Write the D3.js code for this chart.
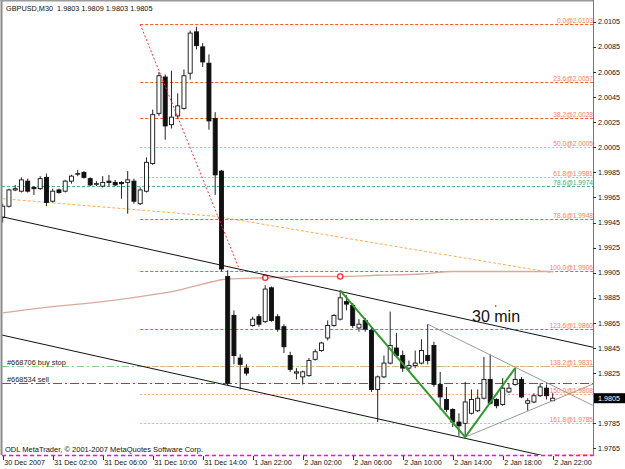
<!DOCTYPE html>
<html>
<head>
<meta charset="utf-8">
<script src="https://cdnjs.cloudflare.com/ajax/libs/d3/7.8.5/d3.min.js"></script>
<style>
  html, body { margin: 0; padding: 0; background: #fff; }
  svg { display: block; font-family: "Liberation Sans", Arial, sans-serif; }
</style>
</head>
<body>
<svg id="chart" width="625" height="469"></svg>
<script>
// GBPUSD M30 candles, bar 0 = 30 Dec 22:00
const opens = [1.9949,1.9958,1.9971,1.9970,1.9978,1.9973,1.9972,1.9981,1.9962,1.9971,
  1.9970,1.9978,1.9984,1.9985,1.9980,1.9976,1.9974,1.9978,1.9977,1.9977,
  1.9977,1.9978,1.9960,1.9970,1.9992,2.0032,2.0061,2.0023,2.0030,2.0036,
  2.0064,2.0097,2.0085,2.0072,2.0028,1.9986,1.9902,1.9871,1.9837,1.9829,
  1.9863,1.9870,1.9866,1.9893,1.9870,1.9862,1.9839,1.9825,1.9822,1.9823,
  1.9836,1.9843,1.9853,1.9863,1.9868,1.9882,1.9879,1.9861,1.9867,1.9859,
  1.9812,1.9822,1.9833,1.9845,1.9839,1.9829,1.9831,1.9833,1.9839,1.9847,
  1.9816,1.9804,1.9796,1.9786,1.9785,1.9793,1.9795,1.9805,1.9820,1.9804,
  1.9800,1.9810,1.9816,1.9820,1.9801,1.9802,1.9807,1.9813,1.9803];
const highs = [1.9960,1.9972,1.9975,1.9981,1.9980,1.9974,1.9982,1.9984,1.9972,1.9972,
  1.9979,1.9983,1.9987,1.9986,1.9981,1.9978,1.9982,1.9983,1.9979,1.9978,
  1.9986,1.9980,1.9973,1.9997,2.0035,2.0065,2.0063,2.0066,2.0048,2.0067,
  2.0098,2.0101,2.0088,2.0079,2.0033,1.9987,1.9907,1.9875,1.9840,1.9832,
  1.9870,1.9872,1.9895,1.9894,1.9872,1.9864,1.9842,1.9829,1.9827,1.9837,
  1.9844,1.9850,1.9867,1.9872,1.9891,1.9887,1.9881,1.9868,1.9869,1.9861,
  1.9823,1.9839,1.9874,1.9857,1.9843,1.9835,1.9843,1.9852,1.9864,1.9850,
  1.9826,1.9814,1.9797,1.9793,1.9818,1.9812,1.9812,1.9838,1.9840,1.9805,
  1.9821,1.9817,1.9829,1.9822,1.9805,1.9809,1.9817,1.9816,1.9809];
const lows = [1.9945,1.9957,1.9970,1.9969,1.9969,1.9967,1.9971,1.9958,1.9961,1.9968,
  1.9969,1.9976,1.9982,1.9980,1.9974,1.9974,1.9973,1.9974,1.9974,1.9964,
  1.9952,1.9960,1.9959,1.9969,1.9991,2.0030,2.0011,2.0020,2.0028,2.0035,
  2.0059,2.0083,2.0069,2.0019,1.9967,1.9906,1.9815,1.9832,1.9812,1.9823,
  1.9862,1.9862,1.9865,1.9866,1.9858,1.9841,1.9826,1.9820,1.9816,1.9822,
  1.9835,1.9842,1.9851,1.9862,1.9867,1.9875,1.9861,1.9858,1.9858,1.9810,
  1.9786,1.9821,1.9832,1.9837,1.9826,1.9826,1.9829,1.9832,1.9832,1.9814,
  1.9796,1.9794,1.9782,1.9775,1.9773,1.9792,1.9794,1.9804,1.9800,1.9797,
  1.9799,1.9809,1.9815,1.9805,1.9795,1.9801,1.9806,1.9804,1.9803];
const closes = [1.9958,1.9971,1.9972,1.9979,1.9970,1.9972,1.9980,1.9961,1.9970,1.9969,
  1.9978,1.9982,1.9984,1.9981,1.9975,1.9976,1.9977,1.9977,1.9975,1.9976,
  1.9979,1.9962,1.9971,1.9993,2.0031,2.0062,2.0022,2.0029,2.0038,2.0062,
  2.0096,2.0086,2.0073,2.0026,1.9983,1.9908,1.9817,1.9839,1.9832,1.9825,
  1.9868,1.9864,1.9892,1.9867,1.9860,1.9846,1.9828,1.9826,1.9826,1.9835,
  1.9842,1.9849,1.9863,1.9871,1.9885,1.9880,1.9863,1.9864,1.9860,1.9812,
  1.9822,1.9833,1.9847,1.9839,1.9829,1.9831,1.9833,1.9843,1.9835,1.9816,
  1.9806,1.9796,1.9786,1.9783,1.9802,1.9804,1.9805,1.9820,1.9801,1.9799,
  1.9813,1.9813,1.9820,1.9806,1.9803,1.9807,1.9814,1.9807,1.9805];

const timeLabels = ["30 Dec 2007","31 Dec 02:00","31 Dec 06:00","31 Dec 10:00","31 Dec 14:00",
  "1 Jan 22:00","2 Jan 02:00","2 Jan 06:00","2 Jan 10:00","2 Jan 14:00","2 Jan 18:00","2 Jan 22:00"];
const timeLabelBars = [0,8,16,24,32,40,48,56,64,72,80,88];

const priceTicks = [2.0105,2.0085,2.0065,2.0045,2.0025,2.0005,1.9985,1.9965,1.9945,
  1.9925,1.9905,1.9885,1.9865,1.9845,1.9825,1.9785,1.9765];
const lastPrice = 1.9805;

// fibonacci retracement (anchored bar 22 -> bar 38)
const fibAnchorBars = [22, 38];
const fibAnchorPrices = [2.0103, 1.9906];
const fibLevels = ["0.0","23.6","38.2","50.0","61.8","78.6","100.0","123.6","138.2","150.0","161.8","176.4"];
const fibPrices = [2.0103,2.0057,2.0028,2.0005,1.9981,1.9948,1.9906,1.9860,1.9831,1.9808,1.9785,1.9756];
const fibFaint = [false,false,false,true,true,false,false,false,true,true,true,true];

// second fib level shown in green
const greenFibLabel = "78.6@1.9974";
const greenFibPrice = 1.9974;

// orders
const orderLabels = ["#668706 buy stop", "#668534 sell"];
const orderPrices = [1.9831, 1.9817];

// moving average
const maBars = [0,8,16,22,28,32,36,42,48,54,60,67,72,80,88];
const maValues = [1.9873,1.9878,1.9882,1.9886,1.9891,1.9896,1.9900,1.9901,1.9902,1.9902,1.9903,1.9904,1.9906,1.9906,1.9906];
const maMarkBars = [42, 54];

// trend lines
const channelBars = [0, 88];
const channelUpper = [1.99495, 1.98527];
const channelLower = [1.98552, 1.97575];
const triUpperBars = [68, 88], triUpperPrices = [1.9864, 1.9815];
const triLowerBars = [74, 88], triLowerPrices = [1.9774, 1.9803];
const zigBars = [54, 74, 82], zigPrices = [1.9891, 1.9774, 1.9829];
const orangeBars = [0, 34, 88], orangePrices = [1.9964, 1.9950, 1.9905];

// ---- layout
const plot = { left: 2, right: 593, top: 2, bottom: 455 };
const svg = d3.select('#chart');

const x = d3.scaleLinear().domain([0, 88]).range([2.7, 552.7]);
const y = d3.scaleLinear().domain([1.9765, 2.0105]).range([448.4, 21.8]);
const ys = p => Math.round(y(p)) + 0.5;   // pixel-snapped for flat lines

svg.append('rect').attr('width', 625).attr('height', 469).attr('fill', '#fff');

svg.append('defs').append('clipPath').attr('id', 'clip')
  .append('rect')
  .attr('x', plot.left).attr('y', plot.top)
  .attr('width', plot.right - plot.left).attr('height', plot.bottom - plot.top);

const g = svg.append('g').attr('clip-path', 'url(#clip)');

const bLeft = x.invert(plot.left), bRight = x.invert(plot.right);

function extend(bars, prices, fromLeft) {
  const slope = (prices[1] - prices[0]) / (bars[1] - bars[0]);
  const b0 = fromLeft ? bLeft : bars[0];
  return [[b0, prices[0] + slope * (b0 - bars[0])], [bRight, prices[0] + slope * (bRight - bars[0])]];
}
const line = d3.line().x(d => x(d[0])).y(d => y(d[1]));
const smooth = d3.line().x(d => x(d[0])).y(d => y(d[1])).curve(d3.curveMonotoneX);

// green fib line (full width)
g.append('line')
  .attr('x1', plot.left).attr('x2', plot.right)
  .attr('y1', ys(greenFibPrice)).attr('y2', ys(greenFibPrice))
  .attr('stroke', '#4db38e').attr('stroke-dasharray', '3,2');

// order lines
g.append('line')
  .attr('x1', plot.left).attr('x2', plot.right)
  .attr('y1', ys(orderPrices[0])).attr('y2', ys(orderPrices[0]))
  .attr('stroke', '#8fd08f').attr('stroke-dasharray', '7,3,2,3');
g.append('line')
  .attr('x1', plot.left).attr('x2', plot.right)
  .attr('y1', ys(orderPrices[1])).attr('y2', ys(orderPrices[1]))
  .attr('stroke', '#1f8a1f').attr('stroke-dasharray', '9,3,2,3');

// fib levels
g.selectAll('.fib').data(fibPrices).join('line')
  .attr('class', 'fib')
  .attr('x1', x(fibAnchorBars[0])).attr('x2', plot.right)
  .attr('y1', d => ys(d)).attr('y2', d => ys(d))
  .attr('stroke', (d, i) => fibFaint[i] ? '#ffa486' : '#ff5a24')
  .attr('stroke-dasharray', (d, i) => fibFaint[i] ? '2,2' : '3,2');

// fib labels (behind the candles, as in the terminal)
g.selectAll('.fibl').data(fibPrices).join('text')
  .attr('class', 'fibl')
  .attr('x', plot.right).attr('y', d => ys(d) - 2)
  .attr('text-anchor', 'end').attr('font-size', 6.6)
  .attr('fill', '#ff7c56')
  .text((d, i) => fibLevels[i] + '@' + d.toFixed(4));
g.append('text')
  .attr('x', plot.right).attr('y', ys(greenFibPrice) - 2)
  .attr('text-anchor', 'end').attr('font-size', 6.6)
  .attr('fill', '#3fae88').text(greenFibLabel);

// orange dashed line
g.append('path')
  .datum(d3.zip(orangeBars, orangePrices))
  .attr('d', line).attr('fill', 'none')
  .attr('stroke', '#ffab55').attr('stroke-dasharray', '3,2');

// moving average
const maPts = d3.zip(maBars, maValues);
g.append('path')
  .datum(maPts)
  .attr('d', smooth).attr('fill', 'none')
  .attr('stroke', '#d6ab9c').attr('stroke-width', 1.3);

// candles
const bars = opens.map((o, i) => ({ i, o, h: highs[i], l: lows[i], c: closes[i] }));
g.selectAll('.wick').data(bars).join('line')
  .attr('class', 'wick')
  .attr('x1', d => x(d.i)).attr('x2', d => x(d.i))
  .attr('y1', d => y(d.h)).attr('y2', d => y(d.l))
  .attr('stroke', '#222');
g.selectAll('.body').data(bars).join('rect')
  .attr('class', 'body')
  .attr('x', d => x(d.i) - 2).attr('width', 4)
  .attr('y', d => y(Math.max(d.o, d.c)))
  .attr('height', d => Math.max(0.6, Math.abs(y(d.o) - y(d.c))))
  .attr('fill', d => d.c >= d.o ? '#fff' : '#111')
  .attr('stroke', '#111').attr('stroke-width', 0.9);

// MA markers
g.selectAll('.mark').data(maMarkBars).join('circle')
  .attr('class', 'mark')
  .attr('cx', d => x(d))
  .attr('cy', d => y(maValues[maBars.indexOf(d)]))
  .attr('r', 2.6).attr('fill', '#fff').attr('stroke', '#ff3030').attr('stroke-width', 1.4);

// channel lines
[channelUpper, channelLower].forEach(p => {
  g.append('path').datum(extend(channelBars, p, true))
    .attr('d', line).attr('stroke', '#111').attr('fill', 'none');
});
// triangle lines
g.append('path').datum(extend(triUpperBars, triUpperPrices, false))
  .attr('d', line).attr('stroke', '#9a9a9a').attr('fill', 'none');
g.append('path').datum(extend(triLowerBars, triLowerPrices, false))
  .attr('d', line).attr('stroke', '#9a9a9a').attr('fill', 'none');

// fib diagonal
g.append('path').datum(d3.zip(fibAnchorBars, fibAnchorPrices))
  .attr('d', line).attr('stroke', '#ff3030').attr('fill', 'none')
  .attr('stroke-dasharray', '2,2');

// green zigzag
g.append('path').datum(d3.zip(zigBars, zigPrices))
  .attr('d', line).attr('stroke', '#2f9a2f').attr('stroke-width', 2).attr('fill', 'none');

// order labels
g.selectAll('.ordl').data(orderLabels).join('text')
  .attr('class', 'ordl')
  .attr('x', 7).attr('y', (d, i) => ys(orderPrices[i]) - 2)
  .attr('font-size', 7.4).attr('fill', '#222').text(d => d);

// "30 min" note
g.append('text').attr('x', 472).attr('y', 321.5)
  .attr('font-size', 16).attr('fill', '#111').text('30 min');
g.append('circle').attr('cx', 495.7).attr('cy', 306).attr('r', 0.8).attr('fill', '#333');

// frame
svg.append('line').attr('x1', plot.left).attr('x2', plot.right)
  .attr('y1', plot.bottom + 0.5).attr('y2', plot.bottom + 0.5)
  .attr('stroke', '#ff00ff').attr('stroke-width', 1.6).attr('stroke-dasharray', '4,3');
svg.append('rect').attr('x', 0.5).attr('y', 0).attr('width', 2).attr('height', plot.bottom)
  .attr('fill', '#8a8a8a');
svg.append('rect').attr('x', 0.5).attr('y', 0).attr('width', plot.right).attr('height', 1.5)
  .attr('fill', '#9a9a9a');
svg.append('line').attr('x1', plot.right + 0.5).attr('x2', plot.right + 0.5)
  .attr('y1', 0).attr('y2', plot.bottom + 1)
  .attr('stroke', '#777');

// price axis
const pa = svg.append('g');
pa.selectAll('line').data(priceTicks).join('line')
  .attr('x1', plot.right).attr('x2', plot.right + 3)
  .attr('y1', d => ys(d)).attr('y2', d => ys(d)).attr('stroke', '#333');
pa.selectAll('text').data(priceTicks).join('text')
  .attr('x', plot.right + 5).attr('y', d => y(d) + 2.6)
  .attr('font-size', 7.2).attr('fill', '#111').text(d => d.toFixed(4));
pa.append('rect').attr('x', plot.right + 1).attr('y', y(lastPrice) - 5)
  .attr('width', 31).attr('height', 10).attr('fill', '#000');
pa.append('text').attr('x', plot.right + 5).attr('y', y(lastPrice) + 2.6)
  .attr('font-size', 7.2).attr('fill', '#fff').text(lastPrice.toFixed(4));

// time axis
const ta = svg.append('g');
ta.selectAll('line').data(timeLabelBars).join('line')
  .attr('x1', d => Math.round(x(d)) + 0.5).attr('x2', d => Math.round(x(d)) + 0.5)
  .attr('y1', plot.bottom + 1).attr('y2', plot.bottom + 5).attr('stroke', '#333');
ta.selectAll('text').data(timeLabelBars).join('text')
  .attr('x', d => x(d) + 1.5).attr('y', 465)
  .attr('font-size', 7.2).attr('fill', '#111')
  .text((d, i) => timeLabels[i]);

// header + footer
svg.append('text').attr('x', 6).attr('y', 10.5).attr('font-size', 7.3).attr('fill', '#111')
  .style('white-space', 'pre').text('GBPUSD,M30  1.9803 1.9809 1.9803 1.9805');
svg.append('text').attr('x', 5).attr('y', 451.5).attr('font-size', 7.5).attr('fill', '#111')
  .text('ODL MetaTrader, \u00a9 2001-2007 MetaQuotes Software Corp.');
</script>
</body>
</html>
